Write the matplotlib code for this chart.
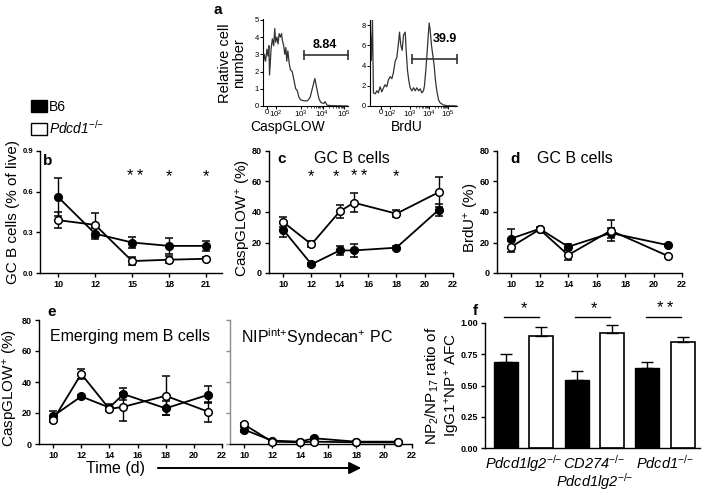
import matplotlib
matplotlib.use('Agg')
import matplotlib.pyplot as plt
from matplotlib.patches import Patch, FancyArrowPatch
import numpy as np

plt.rcParams['font.family'] = ['Liberation Sans', 'DejaVu Sans']
plt.rcParams['mathtext.fontset'] = 'custom'
plt.rcParams['mathtext.rm'] = 'Liberation Sans'
plt.rcParams['mathtext.it'] = 'Liberation Sans:italic'
plt.rcParams['mathtext.bf'] = 'Liberation Sans:bold'

W, H = 704, 493

# ---------------- data ----------------
# panel a: histograms (x in display decades, y relative cell number)
casp_x = [1.27, 1.33, 1.39, 1.45, 1.50, 1.54, 1.57, 1.64, 1.70, 1.76, 1.81, 1.85, 1.91,
          1.96, 2.01, 2.07, 2.12, 2.16, 2.22, 2.27, 2.32, 2.36, 2.41, 2.47, 2.53, 2.61,
          2.69, 2.77, 2.84, 2.92, 3.00, 3.16, 3.31, 3.43, 3.53, 3.65, 3.74, 3.84, 3.93,
          4.06, 4.12, 4.21, 4.40, 5.17]
casp_y = [2.3, 3.0, 2.6, 3.3, 2.9, 3.5, 1.8, 3.3, 3.9, 3.5, 4.5, 3.7, 4.0,
          3.6, 4.2, 4.0, 4.2, 3.8, 3.5, 3.0, 3.4, 2.6, 3.2, 2.5, 2.1, 2.0,
          1.5, 1.0, 0.9, 0.5, 0.35, 0.3, 0.3, 0.5, 1.0, 1.6, 1.0, 0.4, 0.2,
          0.15, 0.25, 0.05, 0.02, 0.0]
casp_gate = [3.16, 5.19, 2.97]
casp_pct = '8.84'
casp_pct_pos = [4.1, 3.55]
casp_ticks = [1.47, 1.88, 3, 4, 5]

brdu_x = [0.89, 0.96, 1.02, 1.07, 1.16, 1.25, 1.33, 1.42, 1.51, 1.60, 1.68, 1.77, 1.86,
          1.95, 2.04, 2.12, 2.21, 2.30, 2.39, 2.44, 2.51, 2.58, 2.65, 2.74, 2.79, 2.86,
          2.93, 3.00, 3.09, 3.18, 3.26, 3.35, 3.44, 3.53, 3.61, 3.70, 3.75, 3.82, 3.88,
          3.95, 4.00, 4.05, 4.12, 4.19, 4.26, 4.33, 4.40, 4.49, 4.58, 4.75, 4.93, 5.46]
brdu_y = [8.6, 4.5, 8.6, 1.3, 1.2, 1.5, 1.3, 1.9, 1.4, 1.8, 2.1, 1.9, 2.6,
          2.9, 2.7, 3.3, 4.4, 4.8, 6.3, 7.3, 6.0, 5.5, 7.0, 7.3, 5.5, 3.5,
          2.5, 1.8, 1.5, 1.8, 1.5, 1.8, 1.5, 1.7, 1.3, 1.5, 2.0, 3.5, 5.0,
          7.0, 8.2, 7.5, 6.0, 5.0, 4.0, 2.5, 1.5, 0.6, 0.3, 0.1, 0.03, 0.0]
brdu_gate = [3.09, 5.46, 4.69]
brdu_pct = '39.9'
brdu_pct_pos = [4.8, 6.6]
brdu_ticks = [1.45, 1.92, 3, 4, 5]
hist_ticklabels = ['0', '10$^2$', '10$^3$', '10$^4$', '10$^5$']

# panel b
b_days = ['10', '12', '15', '18', '21']
b_b6 = [0.56, 0.29, 0.225, 0.20, 0.20]
b_b6_err = [0.14, 0.04, 0.04, 0.06, 0.035]
b_ko = [0.39, 0.355, 0.088, 0.098, 0.105]
b_ko_err = [0.06, 0.09, 0.03, 0.025, 0.01]
b_stars = ['', '', '**', '*', '*']

# panel c
c_days = [10, 12, 14, 15, 18, 21]
c_b6 = [28.4, 5.7, 14.8, 14.8, 16.6, 41.5]
c_b6_err = [4.5, 1.0, 2.8, 4.2, 1.0, 4.0]
c_ko = [33.4, 18.8, 40.4, 46.1, 38.9, 53.0]
c_ko_err = [3.0, 2.0, 4.5, 6.2, 2.5, 10.0]
c_stars = ['', '*', '*', '**', '*', '']

# panel d
d_days = [10, 12, 14, 17, 21]
d_b6 = [22.6, 29.0, 17.2, 26.2, 18.3]
d_b6_err = [6.5, 1.0, 1.5, 3.0, 0.8]
d_ko = [17.2, 28.6, 11.8, 27.8, 11.2]
d_ko_err = [3.5, 0.8, 3.0, 7.0, 0.5]

# panel e
e_days = [10, 12, 14, 15, 18, 21]
e_mem_b6 = [18.0, 30.7, 23.5, 32.2, 23.0, 31.7]
e_mem_b6_err = [3.5, 1.0, 2.0, 4.0, 4.5, 5.5]
e_mem_ko = [15.4, 45.2, 22.6, 24.0, 31.1, 20.9]
e_mem_ko_err = [1.0, 3.5, 1.0, 9.0, 12.5, 6.5]
e_pc_b6 = [9.3, 2.2, 1.5, 3.7, 1.5, 1.5]
e_pc_b6_err = [1.5, 0.5, 0.5, 0.8, 0.5, 0.5]
e_pc_ko = [12.6, 1.5, 1.1, 1.5, 1.1, 1.0]
e_pc_ko_err = [1.0, 0.5, 0.4, 0.5, 0.4, 0.4]

# panel f
f_groups = ['Pdcd1lg2$^{{-}/{-}}$', 'CD274$^{{-}/{-}}$\nPdcd1lg2$^{{-}/{-}}$', 'Pdcd1$^{{-}/{-}}$']
f_b6 = [0.692, 0.544, 0.638]
f_b6_err = [0.06, 0.075, 0.048]
f_ko = [0.90, 0.92, 0.845]
f_ko_err = [0.067, 0.067, 0.04]
f_stars = ['*', '*', '**']

# ---------------- helpers ----------------
fig = plt.figure(figsize=(W / 100, H / 100), dpi=100)


def rect(x0, y0, x1, y1):
    return [x0 / W, 1 - y1 / H, (x1 - x0) / W, (y1 - y0) / H]


def ftext(x, y, s, **kw):
    return fig.text(x / W, 1 - y / H, s, **kw)


def style(ax, tsize=6.5):
    for s in ['top', 'right']:
        ax.spines[s].set_visible(False)
    for s in ['left', 'bottom']:
        ax.spines[s].set_linewidth(1.0)
    ax.tick_params(direction='out', length=3, width=1, labelsize=tsize, pad=2)
    for lab in ax.get_xticklabels() + ax.get_yticklabels():
        lab.set_fontweight('bold')


def stars(s):
    return '\u2009'.join(s)


MS = 5.5
LW = 1.3


def series(ax, x, y, e, filled):
    ax.errorbar(x, y, yerr=e, fmt='-o', color='k', lw=LW, ms=MS,
                mfc='k' if filled else 'white', mec='k', mew=1.1,
                capsize=3, elinewidth=1, capthick=1, clip_on=False,
                zorder=3 if filled else 4)


# ---------------- panel a ----------------
for (hx, hy, gate, pct, ppos, ticks, r, ylim, yt) in [
        (casp_x, casp_y, casp_gate, casp_pct, casp_pct_pos, casp_ticks,
         rect(263, 19, 348, 106), (0, 5.05), [0, 1, 2, 3, 4, 5]),
        (brdu_x, brdu_y, brdu_gate, brdu_pct, brdu_pct_pos, brdu_ticks,
         rect(370, 20, 457, 106), (0, 8.5), [0, 2, 4, 6, 8])]:
    ax = fig.add_axes(r)
    ax.plot(hx, hy, color='#333333', lw=0.9)
    ax.plot([gate[0], gate[1]], [gate[2], gate[2]], color='#333333', lw=1.2,
            marker='|', ms=7, mew=1.2, clip_on=False)
    ax.text(ppos[0], ppos[1], pct, ha='center', va='center', fontsize=9, fontweight='bold')
    ax.set_xlim(hx[0], hx[-1])
    ax.set_ylim(*ylim)
    ax.set_yticks(yt)
    ax.set_xticks(ticks)
    ax.set_xticklabels(hist_ticklabels)
    minors = [k + np.log10(m) for k in (3, 4) for m in range(2, 10)]
    ax.set_xticks(minors, minor=True)
    for s in ['top', 'right']:
        ax.spines[s].set_visible(False)
    ax.spines['left'].set_linewidth(0.8)
    ax.spines['bottom'].set_linewidth(0.8)
    ax.tick_params(direction='out', length=2, width=0.7, labelsize=5.5, pad=1)
    ax.tick_params(which='minor', length=1.2, width=0.5)
    ax.tick_params(axis='x', labelsize=5.8, pad=0.3)

ftext(288, 127, 'CaspGLOW', ha='center', va='center', fontsize=10)
ftext(407, 127, 'BrdU', ha='center', va='center', fontsize=10)
ftext(232, 63, 'Relative cell\nnumber', ha='center', va='center', fontsize=10.5,
      rotation=90, linespacing=1.0)
ftext(218, 10, 'a', ha='center', va='center', fontsize=11, fontweight='bold')

# legend
leg = fig.legend(handles=[Patch(facecolor='k', edgecolor='k', lw=1),
                          Patch(facecolor='white', edgecolor='k', lw=1)],
                 labels=['B6', 'Pdcd1$^{{-}/{-}}$'], loc='upper left',
                 bbox_to_anchor=(31 / W, 1 - 100 / H), frameon=False, fontsize=10,
                 handlelength=1.15, handleheight=0.95, handletextpad=0.15,
                 labelspacing=0.35, borderpad=0, borderaxespad=0)
leg.get_texts()[1].set_fontstyle('italic')

# ---------------- panel b ----------------
ax = fig.add_axes(rect(40, 151, 222, 273))
xb = np.arange(len(b_days))
series(ax, xb, b_b6, b_b6_err, True)
series(ax, xb, b_ko, b_ko_err, False)
ax.set_xlim(-0.49, 4.43)
ax.set_ylim(0, 0.9)
ax.set_yticks([0, 0.3, 0.6, 0.9])
ax.set_xticks(xb)
ax.set_xticklabels(b_days)
style(ax)
ax.tick_params(axis='y', labelsize=5.5)
for i, s in enumerate(b_stars):
    if s:
        ax.text(xb[i] + (0.08 if len(s) > 1 else 0), 0.71, stars(s), ha='center', va='center', fontsize=12)
ax.set_ylabel('GC B cells (% of live)', fontsize=11)
ax.yaxis.set_label_coords(-0.11, 0.5)
ftext(48, 161, 'b', ha='center', va='center', fontsize=11, fontweight='bold')

# ---------------- panel c ----------------
ax = fig.add_axes(rect(269, 151, 453, 273))
series(ax, c_days, c_b6, c_b6_err, True)
series(ax, c_days, c_ko, c_ko_err, False)
ax.set_xlim(9, 22)
ax.set_ylim(0, 80)
ax.set_xticks([10, 12, 14, 16, 18, 20, 22])
ax.set_yticks([0, 20, 40, 60, 80])
style(ax)
c_star_shift = [0, 0, -0.25, 0.35, 0, 0]
for d, s, sh in zip(c_days, c_stars, c_star_shift):
    if s:
        ax.text(d + sh, 63, stars(s), ha='center', va='center', fontsize=12)
ax.set_ylabel('CaspGLOW$^{+}$ (%)', fontsize=11)
ax.yaxis.set_label_coords(-0.088, 0.45)
ftext(282, 159, 'c', ha='center', va='center', fontsize=11, fontweight='bold')
ftext(352, 158, 'GC B cells', ha='center', va='center', fontsize=11.5)

# ---------------- panel d ----------------
ax = fig.add_axes(rect(497, 151, 682, 273))
series(ax, d_days, d_b6, d_b6_err, True)
series(ax, d_days, d_ko, d_ko_err, False)
ax.set_xlim(9, 22)
ax.set_ylim(0, 80)
ax.set_xticks([10, 12, 14, 16, 18, 20, 22])
ax.set_yticks([0, 20, 40, 60, 80])
style(ax)
ax.set_ylabel('BrdU$^{+}$ (%)', fontsize=11)
ax.yaxis.set_label_coords(-0.088, 0.45)
ftext(515, 159, 'd', ha='center', va='center', fontsize=11, fontweight='bold')
ftext(575, 158, 'GC B cells', ha='center', va='center', fontsize=11.5)

# ---------------- panel e ----------------
ax = fig.add_axes(rect(39, 320, 222, 444))
series(ax, e_days, e_mem_b6, e_mem_b6_err, True)
series(ax, e_days, e_mem_ko, e_mem_ko_err, False)
ax.set_xlim(9, 22)
ax.set_ylim(0, 80)
ax.set_xticks([10, 12, 14, 16, 18, 20, 22])
ax.set_yticks([0, 20, 40, 60, 80])
style(ax)
ax.set_ylabel('CaspGLOW$^{+}$ (%)', fontsize=11)
ax.yaxis.set_label_coords(-0.105, 0.45)
ax.text(0.5, 0.865, 'Emerging mem B cells', transform=ax.transAxes, ha='center',
        va='center', fontsize=11.5)
ftext(52, 312, 'e', ha='center', va='center', fontsize=11, fontweight='bold')

ax2 = fig.add_axes(rect(230, 320, 412, 444))
series(ax2, e_days, e_pc_b6, e_pc_b6_err, True)
series(ax2, e_days, e_pc_ko, e_pc_ko_err, False)
ax2.set_xlim(9, 22)
ax2.set_ylim(0, 80)
ax2.set_xticks([10, 12, 14, 16, 18, 20, 22])
ax2.set_yticks([0, 20, 40, 60, 80])
style(ax2)
ax2.set_yticklabels([])
ax2.spines['left'].set_color('#8c8c8c')
ax2.tick_params(axis='y', color='#8c8c8c')
ax2.text(0.06, 0.865, 'NIP$^{\\mathrm{int}{+}}$Syndecan$^{+}$ PC', transform=ax2.transAxes,
         ha='left', va='center', fontsize=11.5)

ftext(116, 468, 'Time (d)', ha='center', va='center', fontsize=11.5)
fig.add_artist(FancyArrowPatch(
    (155 / W, 1 - 468 / H), (364 / W, 1 - 468 / H), transform=fig.transFigure,
    arrowstyle='-|>', mutation_scale=18, lw=1.4, color='k'))

# ---------------- panel f ----------------
ax = fig.add_axes(rect(485, 323, 700, 448))
n = len(f_b6)
pos_b6 = np.arange(n) * 2
pos_ko = np.arange(n) * 2 + 1
ax.bar(pos_b6, f_b6, width=0.68, color='k', edgecolor='k', lw=1,
       yerr=[np.zeros(n), f_b6_err], error_kw=dict(capsize=4, elinewidth=1, capthick=1))
ax.bar(pos_ko, f_ko, width=0.68, color='white', edgecolor='k', lw=1.2,
       yerr=[np.zeros(n), f_ko_err], error_kw=dict(capsize=4, elinewidth=1, capthick=1))
ax.set_xlim(-0.59, 5.49)
ax.set_ylim(0, 1.0)
ax.set_yticks([0, 0.25, 0.5, 0.75, 1.0])
ax.set_yticklabels(['0.00', '0.25', '0.50', '0.75', '1.00'])
ax.set_xticks(pos_b6 + 0.5)
ax.set_xticklabels(f_groups, fontsize=10.5, style='italic', linespacing=1.0)
style(ax)
ax.tick_params(axis='x', length=0, labelsize=10.5, pad=4)
for lab in ax.get_xticklabels():
    lab.set_fontweight('normal')
for i, s in enumerate(f_stars):
    ax.plot([pos_b6[i] - 0.05, pos_ko[i] - 0.05], [1.045, 1.045], color='k', lw=1, clip_on=False)
    ax.text(pos_b6[i] + 0.5, 1.115, stars(s), ha='center', va='center', fontsize=12)
ax.set_ylabel('NP$_2$/NP$_{17}$ ratio of\nIgG1$^{+}$NP$^{+}$ AFC', fontsize=11, linespacing=1.2)
ax.yaxis.set_label_coords(-0.105, 0.5)
ftext(475, 311, 'f', ha='center', va='center', fontsize=11, fontweight='bold')

fig.savefig('out.png', dpi=100)
